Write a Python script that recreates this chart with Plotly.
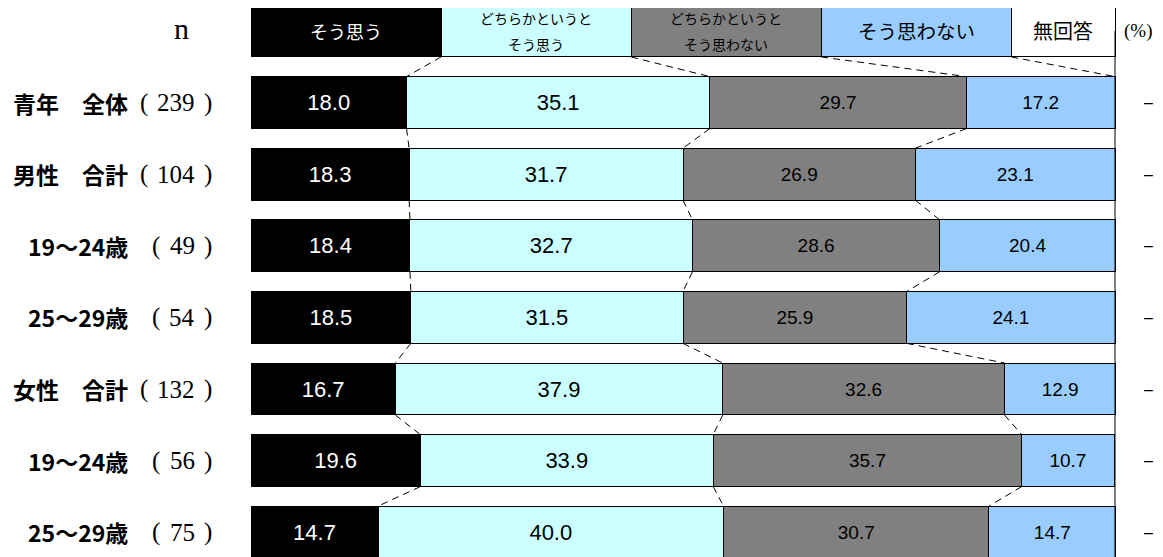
import plotly.graph_objects as go

# rows (top to bottom)
groups = ["青年　全体", "男性　合計", "19～24歳", "25～29歳", "女性　合計", "19～24歳", "25～29歳"]
n_values = [239, 104, 49, 54, 132, 56, 75]

# answer categories (header bar acts as the legend)
categories = [["そう思う"], ["どちらかというと", "そう思う"], ["どちらかというと", "そう思わない"],
              ["そう思わない"], ["無回答"]]
legend_widths = [22, 22, 22, 22, 12]

# percentages
agree = [18.0, 18.3, 18.4, 18.5, 16.7, 19.6, 14.7]
rather_agree = [35.1, 31.7, 32.7, 31.5, 37.9, 33.9, 40.0]
rather_disagree = [29.7, 26.9, 28.6, 25.9, 32.6, 35.7, 30.7]
disagree = [17.2, 23.1, 20.4, 24.1, 12.9, 10.7, 14.7]
no_answer = [0, 0, 0, 0, 0, 0, 0]

series = [agree, rather_agree, rather_disagree, disagree, no_answer]
colors = ["#000000", "#CCFFFF", "#808080", "#99CCFF", "#FFFFFF"]
value_sizes = [22, 22, 19, 19, 19]
header_sizes = [18, 14, 14, 19.5, 20]
text_colors = ["white", "black", "black", "black", "black"]

GOTHIC = "Noto Sans CJK JP, sans-serif"
NUM = "Liberation Sans, Arial, sans-serif"
SERIF = "Liberation Serif, serif"

# layout geometry (page has an 8px body margin)
L, PW = 242, 866
def page_x(p):
    return (p - 8 - L) / PW

bar_w = 0.726
ys = list(range(len(groups) + 1))  # 0 = header row

fig = go.Figure()

for k, vals in enumerate(series):
    xs = [legend_widths[k]] + vals
    texts = [""] + [f"{v:.1f}" if (v > 0 and k < 4) else "" for v in vals]
    fig.add_trace(go.Bar(
        y=ys, x=xs, orientation="h", width=bar_w,
        marker=dict(color=colors[k], line=dict(color="black", width=1)),
        text=texts, textposition="inside", insidetextanchor="middle",
        textangle=0, constraintext="none",
        textfont=dict(color=text_colors[k], size=value_sizes[k], family=NUM),
        hoverinfo="skip", showlegend=False,
    ))

# cumulative boundaries per row
rows_cum = []
cum = []
acc = 0
for w in legend_widths[:4]:
    acc += w
    cum.append(acc)
rows_cum.append(cum)
for i in range(len(groups)):
    acc = 0
    cum = []
    for vals in series[:4]:
        acc += vals[i]
        cum.append(acc)
    rows_cum.append(cum)

# dashed connectors between adjacent rows
cx, cy = [], []
for i in range(len(rows_cum) - 1):
    nb = 4 if i == 0 else 3
    for b in range(nb):
        cx += [rows_cum[i][b], rows_cum[i + 1][b], None]
        cy += [i + bar_w / 2, i + 1 - bar_w / 2, None]
fig.add_trace(go.Scatter(x=cx, y=cy, mode="lines",
                         line=dict(color="black", width=1, dash="7px,5px"),
                         hoverinfo="skip", showlegend=False))

# solid right edge at 100 %
fig.add_trace(go.Scatter(x=[100, 100], y=[0, len(groups) + 0.5], mode="lines",
                         line=dict(color="black", width=1),
                         hoverinfo="skip", showlegend=False))

annotations = []

# header (legend) labels
left = 0
for k, lines in enumerate(categories):
    mid = left + legend_widths[k] / 2
    left += legend_widths[k]
    if len(lines) == 1:
        annotations.append(dict(x=mid, y=0, text=lines[0], showarrow=False,
                                font=dict(size=header_sizes[k], family=GOTHIC, color=text_colors[k])))
    else:
        for j, line in enumerate(lines):
            annotations.append(dict(x=mid, y=0, yshift=13 - 26 * j, text=line, showarrow=False,
                                    font=dict(size=header_sizes[k], family=GOTHIC, color=text_colors[k])))

annotations.append(dict(x=page_x(181), xref="paper", y=0, yshift=2, text="n", showarrow=False,
                        xanchor="center", font=dict(size=30, family=SERIF, color="black")))
annotations.append(dict(x=page_x(1138), xref="paper", y=0, text="(%)", showarrow=False,
                        xanchor="center", font=dict(size=19, family=SERIF, color="black")))

for i, (g, n) in enumerate(zip(groups, n_values)):
    y = i + 1
    annotations.append(dict(x=page_x(130), xref="paper", y=y, text=f"<b>{g}</b>", showarrow=False,
                            xanchor="right", font=dict(size=23, family=GOTHIC, color="black")))
    digits = str(n)
    annotations.append(dict(x=page_x(197), xref="paper", y=y, text=digits, showarrow=False,
                            xanchor="right", font=dict(size=25, family=SERIF, color="black")))
    annotations.append(dict(x=page_x(197 - 12.5 * len(digits) - 10), xref="paper", y=y, text="(",
                            showarrow=False, xanchor="right",
                            font=dict(size=25, family=SERIF, color="black")))
    annotations.append(dict(x=page_x(202), xref="paper", y=y, text=")", showarrow=False,
                            xanchor="left", font=dict(size=25, family=SERIF, color="black")))
    annotations.append(dict(x=page_x(1148), xref="paper", y=y,
                            text="–" if no_answer[i] == 0 else f"{no_answer[i]:.1f}",
                            showarrow=False, xanchor="center",
                            font=dict(size=16, family=NUM, color="black")))

fig.update_layout(
    barmode="stack",
    width=1163, height=557,
    margin=dict(l=L, r=1163 - L - PW, t=0, b=0),
    plot_bgcolor="white", paper_bgcolor="white",
    xaxis=dict(range=[-0.116, 100.116], visible=False, fixedrange=True),
    yaxis=dict(range=[7.458, -0.321], visible=False, fixedrange=True),
    annotations=annotations,
)

fig.write_html("out.html")
